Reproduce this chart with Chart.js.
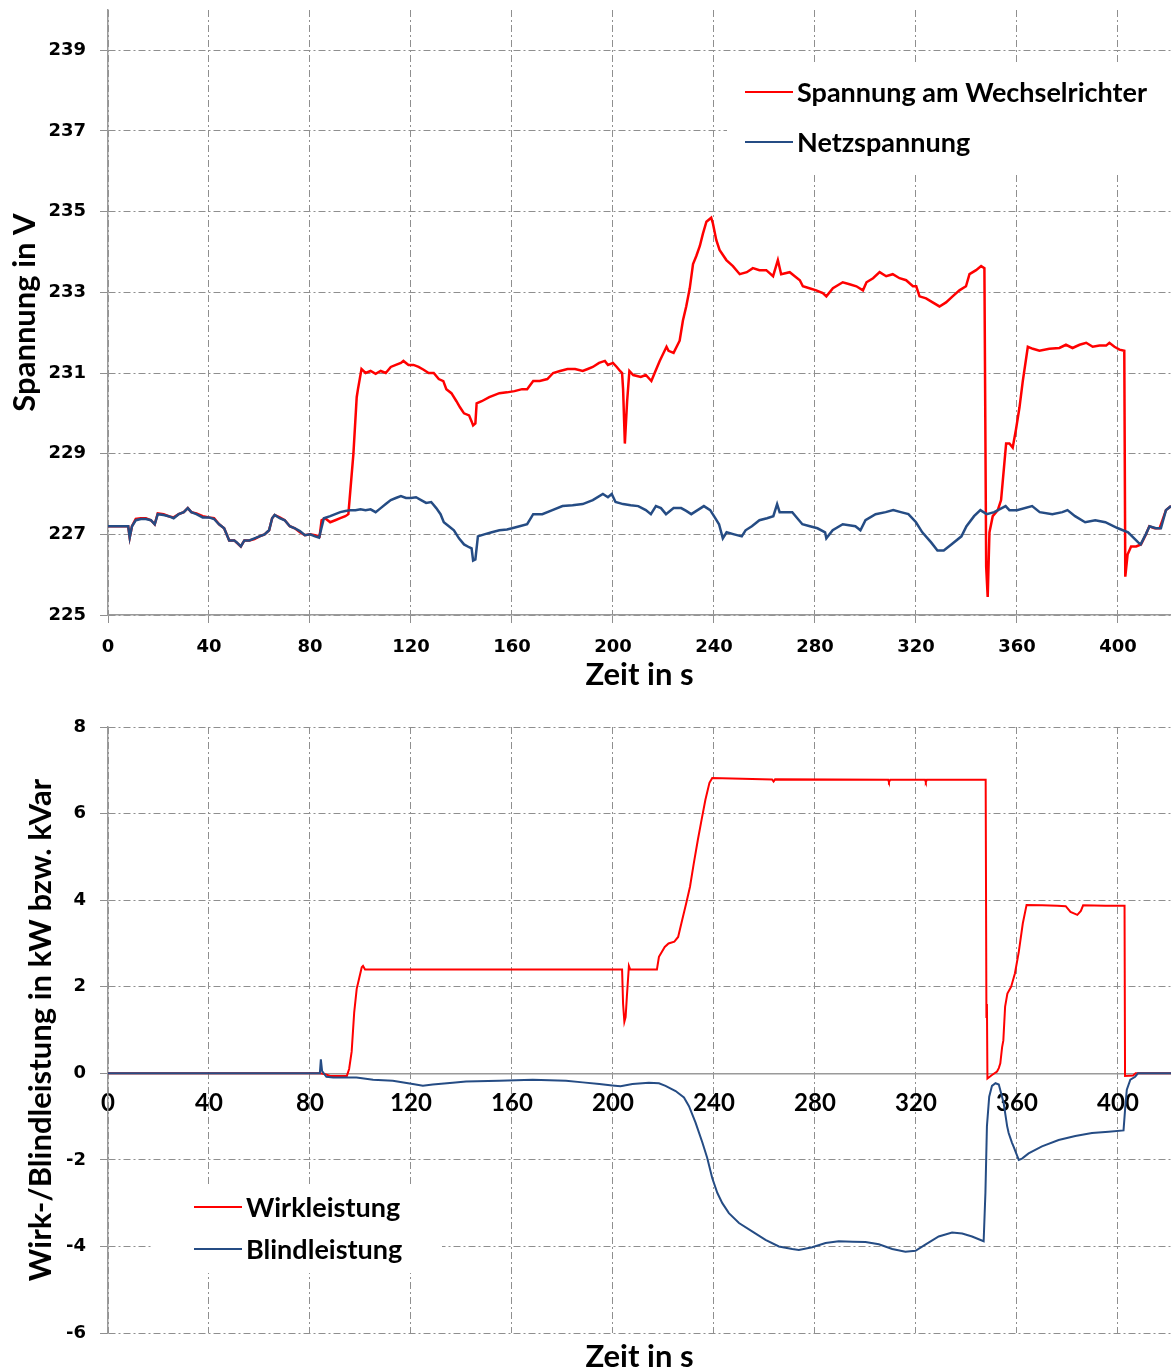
<!DOCTYPE html>
<html>
<head>
<meta charset="utf-8">
<title>Spannung und Leistung</title>
<script src="https://cdn.jsdelivr.net/npm/chart.js@4.4.1/dist/chart.umd.min.js"></script>
<style>
  body { margin: 0; background: #fff; }
  canvas { display: block; }
</style>
</head>
<body>
<canvas id="spannung" width="1171" height="700"></canvas>
<canvas id="leistung" width="1171" height="671"></canvas>
<script>
// --- Daten: Spannung am Wechselrichter (rot) ---
const tWR = [
  0,8,8.6,9.5,11,13,15,17,18.5,19.7,
  22,24,26,28,30,31.6,33,35,37.5,40,
  42,44,46,48,50,52.6,54,56,58,60,
  62,63.8,65,66,68,70,72,74,76,78,
  80,82,83.8,84.6,86,88,90,92,94,95.2,
  96,97.2,98.5,99,100.4,102,104,106,108,110,
  112,114,116,117,119,121,123,125,127,129,
  131,132.8,134,136,138,139.4,141,143,144,144.6,
  145.5,146,148,151,155,158,161,164,166,168.4,
  171,174,176.3,179,182,185,188,190,192,194.5,
  196.8,198,200,201.5,202.8,203.6,204,204.7,205.6,206.5,
  208,211,213,215.2,216.5,218.5,221.2,222,224,226.4,
  227.7,229,230.4,231.7,233,234.4,235.6,237,238.9,239.6,
  240.9,242.2,244.9,247.5,250.2,253,255.4,258,260.7,263.4,
  265.3,266.6,270,272,274,275.2,277.8,280.5,283.1,284.5,
  287.1,289.7,291,293.7,296.4,299,300.4,303,305.6,308.2,
  310.8,313.5,316.1,318.8,320.1,321.4,324,326.6,329.3,331.9,
  334.5,337.2,339.8,341.2,343.8,345.8,347.1,347.8,348.4,349.1,
  350.4,352.4,353.7,355.7,357,358.3,359.6,361,362.3,364.3,
  366.3,368.9,372.8,376.8,379.4,382,384.8,387.4,390,392.7,
  395.3,396.6,398.6,400.6,402.5,402.9,403.8,405.2,407.2,409.1,
  411.1,412.4,414.5,416.5,419,421
]
const uWR = [
  227.2,227.2,226.92,227.2,227.38,227.4,227.4,227.35,227.25,227.52,
  227.5,227.45,227.42,227.5,227.55,227.65,227.55,227.52,227.45,227.42,
  227.4,227.25,227.15,226.85,226.85,226.7,226.85,226.85,226.88,226.95,
  227.0,227.1,227.4,227.48,227.42,227.35,227.2,227.15,227.05,226.98,
  227.0,226.98,226.95,227.35,227.4,227.3,227.35,227.4,227.45,227.5,
  228.1,229.0,230.4,230.6,231.1,231.0,231.05,230.98,231.05,231.0,
  231.15,231.2,231.25,231.3,231.2,231.2,231.15,231.08,231.0,231.0,
  230.85,230.8,230.6,230.5,230.3,230.15,230.0,229.95,229.8,229.7,
  229.75,230.25,230.3,230.4,230.5,230.52,230.55,230.6,230.6,230.8,
  230.8,230.85,231.0,231.05,231.1,231.1,231.05,231.1,231.15,231.25,
  231.3,231.2,231.25,231.15,231.05,231.0,230.6,229.25,230.3,231.05,
  230.95,230.9,230.95,230.8,231.0,231.3,231.65,231.55,231.5,231.8,
  232.3,232.65,233.1,233.7,233.9,234.15,234.45,234.75,234.85,234.7,
  234.3,234.05,233.8,233.65,233.45,233.5,233.6,233.55,233.55,233.4,
  233.8,233.45,233.5,233.4,233.3,233.15,233.1,233.05,232.98,232.9,
  233.1,233.2,233.25,233.2,233.15,233.05,233.25,233.35,233.5,233.4,
  233.45,233.35,233.3,233.15,233.15,232.9,232.85,232.75,232.65,232.75,
  232.9,233.05,233.15,233.45,233.55,233.65,233.6,226.2,225.45,227.05,
  227.45,227.6,227.85,229.25,229.25,229.15,229.6,230.15,230.8,231.65,
  231.6,231.55,231.6,231.62,231.7,231.62,231.7,231.75,231.65,231.68,
  231.68,231.75,231.65,231.58,231.55,225.95,226.5,226.7,226.7,226.75,
  227.0,227.2,227.15,227.15,227.6,227.7
]

// --- Daten: Netzspannung (blau) ---
const tNetz = [
  0,8,8.6,9.5,11,13,15,17,18.5,19.7,
  22,24,26,28,30,31.6,33,35,37.5,40,
  42,44,46,48,50,51,52.6,54,56,58,
  60,62,63.8,65,66,68,70,72,74,76,
  78,80,82,83.6,85.5,88,90,92,94,96,
  98,100,102,104,106,108,110,112,114,116,
  118,120,122,124,126,128,130,131.7,133,135,
  137,139,141,143,144,144.6,145.5,146.5,149,152,
  155,158,160,163,166,168.4,172,176,180,184,
  188,192,196,198,199.5,201,204,207,210,213,
  215,217,219,221,224,227,229,231,233.5,236,
  238.5,240.5,242,243.5,245,248,251,252.5,255,258,
  261,263.5,265,266,268,271,273,275,278,281,
  284,284.5,287,291,296,298,300,304,308,311,
  314,317,320,322.5,326,328.5,331,334,338,340,
  343,345.5,348,351,355.5,357,360,366,369,374,
  378,380,383,387,391,395,400,404,408,409,
  411,412.5,415,417,419,421
]
const uNetz = [
  227.2,227.2,226.92,227.2,227.35,227.38,227.38,227.35,227.25,227.5,
  227.48,227.45,227.4,227.5,227.55,227.65,227.55,227.5,227.42,227.42,
  227.38,227.25,227.15,226.85,226.85,226.8,226.7,226.85,226.85,226.9,
  226.95,227.0,227.1,227.4,227.48,227.4,227.35,227.2,227.15,227.08,
  226.98,227.0,226.95,226.92,227.4,227.45,227.5,227.55,227.58,227.6,
  227.6,227.62,227.6,227.62,227.55,227.65,227.75,227.85,227.9,227.95,
  227.9,227.9,227.92,227.85,227.78,227.8,227.65,227.5,227.3,227.2,
  227.1,226.9,226.75,226.68,226.65,226.35,226.38,226.95,227.0,227.05,
  227.1,227.12,227.15,227.2,227.25,227.5,227.5,227.6,227.7,227.72,
  227.75,227.85,228.0,227.92,228.0,227.8,227.75,227.72,227.7,227.6,
  227.5,227.7,227.65,227.5,227.65,227.65,227.58,227.5,227.6,227.7,
  227.6,227.4,227.25,226.9,227.05,227.0,226.95,227.1,227.2,227.35,
  227.4,227.45,227.75,227.55,227.55,227.55,227.4,227.25,227.2,227.15,
  227.05,226.9,227.1,227.25,227.2,227.1,227.35,227.5,227.55,227.6,
  227.55,227.5,227.3,227.05,226.8,226.6,226.6,226.75,226.95,227.2,
  227.45,227.6,227.5,227.55,227.7,227.6,227.6,227.7,227.55,227.5,
  227.55,227.6,227.45,227.3,227.35,227.3,227.15,227.05,226.8,226.75,
  227.0,227.2,227.15,227.15,227.6,227.7
]

// --- Daten: Wirkleistung (rot) ---
const tWirk = [
  0,84,86,88,94.6,95.5,96.5,97.5,98.5,99.5,
  100.5,101,101.8,203.6,204,204.5,205,205.5,206.3,206.8,
  217.4,218.2,220.5,222,224.3,225.8,227.4,229,230.5,232,
  233.6,235.1,236.6,238.2,239.3,263,263.6,264.2,309,309.3,
  309.8,323.6,323.9,324.3,347.6,347.9,348.1,348.3,350.1,352.1,
  352.8,353.4,354.1,354.6,355.3,356.2,357.7,359.2,360.7,362.3,
  363.8,370,376,379.3,381.2,383.9,385.3,386.2,395,402.6,
  402.8,406,407,421
]
const pWirk = [
  0,0,-0.02,-0.06,-0.06,0.1,0.5,1.4,1.95,2.2,
  2.45,2.48,2.4,2.4,1.6,1.19,1.3,1.77,2.48,2.4,
  2.4,2.69,2.92,3.0,3.04,3.15,3.54,3.93,4.31,4.85,
  5.39,5.86,6.32,6.71,6.82,6.79,6.74,6.79,6.78,6.73,
  6.78,6.78,6.73,6.78,6.78,1.3,1.6,-0.12,-0.04,0.04,
  0.12,0.23,0.6,0.76,1.54,1.84,2.0,2.31,2.8,3.46,
  3.89,3.88,3.87,3.86,3.73,3.66,3.75,3.88,3.87,3.87,
  -0.06,-0.05,0,0
]

// --- Daten: Blindleistung (blau) ---
const tBlind = [
  0,83.9,84.3,84.8,86.5,89.2,98.4,105,112.8,120.7,
  124.7,128.6,136.5,141.8,155,168.2,181.4,188,194.6,199.7,
  203,207.7,214.2,218.2,220.8,224.8,228.1,230.1,232.7,235.4,
  237.3,239.3,241.3,243.3,245.9,249.9,255.1,260.4,265.7,271,
  273.6,278.9,284.2,289.4,295,300,305.3,310.6,315.8,319.8,
  323.7,329,334.3,338.3,342.2,346.8,347.5,348.1,349,350.1,
  351.5,352.8,354.7,356.1,356.7,358,358.7,360.7,362,364.6,
  369.9,376.5,383.1,389.7,396.3,402.2,402.9,403.5,404.9,406.8,
  407.9,421
]
const qBlind = [
  0,0,0.32,0.05,-0.08,-0.1,-0.1,-0.15,-0.17,-0.25,
  -0.29,-0.26,-0.22,-0.19,-0.17,-0.15,-0.17,-0.21,-0.25,-0.28,
  -0.3,-0.25,-0.22,-0.23,-0.29,-0.41,-0.56,-0.76,-1.14,-1.6,
  -1.95,-2.42,-2.76,-3.0,-3.23,-3.46,-3.65,-3.85,-4.0,-4.06,
  -4.08,-4.02,-3.92,-3.88,-3.89,-3.9,-3.95,-4.06,-4.12,-4.1,
  -3.96,-3.77,-3.68,-3.7,-3.77,-3.88,-2.76,-1.22,-0.54,-0.29,
  -0.23,-0.26,-0.68,-1.22,-1.38,-1.6,-1.7,-2.0,-1.97,-1.85,
  -1.69,-1.54,-1.45,-1.38,-1.35,-1.32,-0.77,-0.38,-0.15,-0.08,
  0,0
]

// --- Achsenbeschriftung ---
const zeitTicks = [0, 40, 80, 120, 160, 200, 240, 280, 320, 360, 400]
const spannungTicks = [225, 227, 229, 231, 233, 235, 237, 239]
const leistungTicks = [-6, -4, -2, 0, 2, 4, 6, 8]

const rot = '#ff0000'
const blau = '#254c84'
const gridColor = '#8f8f8f'
const gridDash = [7, 3, 2, 3]
const tickFont = { family: 'DejaVu Sans', weight: 'bold', size: 18 }
const titleFont = { family: 'Lato', weight: 'bold', size: 31 }

function toPoints(ts, vs) {
    return ts.map((t, i) => ({ x: t, y: vs[i] }))
}

function setTicks(values) {
    return function (scale) {
        scale.ticks = values.map(v => ({ value: v }))
    }
}

// feste Achsengroesse, ohne Zusatzabstand fuer ueberstehende Beschriftung
function fixSize(w, h) {
    return function (s) {
        if (w != null) s.width = w
        if (h != null) s.height = h
        s.paddingTop = 0
        s.paddingBottom = 0
        s.paddingLeft = 0
        s.paddingRight = 0
    }
}

// Legende mit weissem Hintergrund innerhalb der Zeichenflaeche
function boxLegend(box) {
    return {
        id: 'boxLegend',
        afterDraw(chart) {
            let ctx = chart.ctx
            ctx.save()
            ctx.fillStyle = '#fff'
            ctx.fillRect(box.x, box.y, box.w, box.h)
            ctx.font = 'bold 27px Lato'
            ctx.textBaseline = 'middle'
            chart.data.datasets.forEach((ds, i) => {
                let y = box.rows[i]
                ctx.strokeStyle = ds.borderColor
                ctx.lineWidth = 2
                ctx.beginPath()
                ctx.moveTo(box.lineX, y)
                ctx.lineTo(box.lineX + 48, y)
                ctx.stroke()
                ctx.fillStyle = '#000'
                ctx.fillText(ds.label, box.lineX + 52, y + 1)
            })
            ctx.restore()
        }
    }
}

// Achsentitel unter dem Diagramm (unteres Diagramm, x-Achse liegt bei 0)
function bottomTitle(text, y) {
    return {
        id: 'bottomTitle',
        afterDraw(chart) {
            let ctx = chart.ctx
            let area = chart.chartArea
            ctx.save()
            ctx.font = 'bold 31px Lato'
            ctx.fillStyle = '#000'
            ctx.textAlign = 'center'
            ctx.textBaseline = 'middle'
            ctx.fillText(text, (area.left + area.right) / 2, y)
            ctx.restore()
        }
    }
}

function gridOpts(drawTicks) {
    return {
        color: gridColor,
        lineWidth: 1,
        borderDash: gridDash,
        drawTicks: drawTicks,
        tickLength: 8,
        tickColor: gridColor,
        tickBorderDash: []
    }
}

function borderOpts() {
    return { display: true, color: '#9a9a9a', width: 1.5, dash: gridDash }
}

// ----- oberes Diagramm: Spannung -----
new Chart(document.getElementById('spannung'), {
    type: 'line',
    data: {
        datasets: [
            { label: 'Spannung am Wechselrichter', data: toPoints(tWR, uWR), borderColor: rot, borderWidth: 2.5, order: 1 },
            { label: 'Netzspannung', data: toPoints(tNetz, uNetz), borderColor: blau, borderWidth: 2.5, order: 0 }
        ]
    },
    options: {
        responsive: false,
        animation: false,
        devicePixelRatio: 1,
        layout: { padding: { top: 10, left: 0, right: 0, bottom: 0 } },
        elements: { point: { radius: 0 }, line: { tension: 0 } },
        plugins: { legend: { display: false }, tooltip: { enabled: false } },
        scales: {
            x: {
                type: 'linear',
                min: 0,
                max: 421,
                afterBuildTicks: setTicks(zeitTicks),
                afterFit: fixSize(null, 85),
                grid: gridOpts(true),
                border: borderOpts(),
                ticks: { font: tickFont, color: '#000', padding: 14, maxRotation: 0, autoSkip: false },
                title: { display: true, text: 'Zeit in s', font: titleFont, color: '#000', padding: { top: 0, bottom: 6 } }
            },
            y: {
                min: 225,
                max: 240,
                afterBuildTicks: setTicks(spannungTicks),
                afterFit: fixSize(108, null),
                grid: gridOpts(true),
                border: borderOpts(),
                ticks: { font: tickFont, color: '#000', padding: 14 },
                title: { display: true, text: 'Spannung in V', font: titleFont, color: '#000', padding: { top: 6, bottom: 0 } }
            }
        }
    },
    plugins: [boxLegend({ x: 727, y: 65, w: 444, h: 107, lineX: 745, rows: [92, 142] })]
})

// ----- unteres Diagramm: Leistung -----
new Chart(document.getElementById('leistung'), {
    type: 'line',
    data: {
        datasets: [
            { label: 'Wirkleistung', data: toPoints(tWirk, pWirk), borderColor: rot, borderWidth: 2, order: 1 },
            { label: 'Blindleistung', data: toPoints(tBlind, qBlind), borderColor: blau, borderWidth: 2, order: 0 }
        ]
    },
    options: {
        responsive: false,
        animation: false,
        devicePixelRatio: 1,
        layout: { padding: { top: 27, left: 0, right: 0, bottom: 38 } },
        elements: { point: { radius: 0 }, line: { tension: 0 } },
        plugins: { legend: { display: false }, tooltip: { enabled: false } },
        scales: {
            x: {
                type: 'linear',
                position: { y: 0 },
                min: 0,
                max: 421,
                afterBuildTicks: setTicks(zeitTicks),
                grid: gridOpts(false),
                border: borderOpts(),
                ticks: { font: { family: 'Lato', weight: 'bold', size: 24 }, color: '#000', padding: 16, maxRotation: 0, autoSkip: false }
            },
            y: {
                min: -6,
                max: 8,
                afterBuildTicks: setTicks(leistungTicks),
                afterFit: fixSize(108, null),
                grid: gridOpts(true),
                border: borderOpts(),
                ticks: { font: tickFont, color: '#000', padding: 14 },
                title: { display: true, text: 'Wirk-/Blindleistung in kW bzw. kVar', font: titleFont, color: '#000', padding: { top: 22, bottom: 0 } }
            }
        }
    },
    plugins: [
        boxLegend({ x: 152, y: 485, w: 290, h: 88, lineX: 194, rows: [507, 549] }),
        bottomTitle('Zeit in s', 657)
    ]
})
</script>
</body>
</html>
